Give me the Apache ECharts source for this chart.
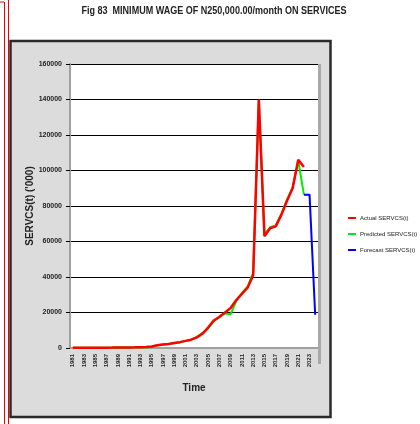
<!DOCTYPE html>
<html><head><meta charset="utf-8">
<script src="https://cdn.jsdelivr.net/npm/echarts@6/dist/echarts.min.js"></script>
<style>html,body{margin:0;padding:0;background:#fff}#c{width:420px;height:424px}</style>
</head><body><div id="c"></div>
<script>
const years = ['1981','1982','1983','1984','1985','1986','1987','1988','1989','1990','1991','1992','1993','1994','1995','1996','1997','1998','1999','2000','2001','2002','2003','2004','2005','2006','2007','2008','2009','2010','2011','2012','2013','2014','2015','2016','2017','2018','2019','2020','2021','2022','2023','2024'];
const actual = [100,110,120,140,160,180,200,220,250,280,320,380,450,500,900,1500,2000,2300,2800,3300,4000,4700,6000,8000,11500,15500,17500,20000,22500,27000,30500,34000,41000,140000,63000,67500,68500,75000,83000,90000,106000,102000,null,null];
const predicted = [100,110,120,140,160,180,200,220,250,280,320,380,450,300,600,1500,2000,2300,2800,3300,4000,4700,6200,8500,11000,15000,17800,19500,19000,26500,31000,34500,42500,139500,64000,68000,69000,75500,83500,90500,105500,86400,null,null];
const forecast = [null,null,null,null,null,null,null,null,null,null,null,null,null,null,null,null,null,null,null,null,null,null,null,null,null,null,null,null,null,null,null,null,null,null,null,null,null,null,null,null,null,86400,86400,18750];
const yTicks = {min:0, max:160000, interval:20000};
const titleText = 'Fig 83  MINIMUM WAGE OF N250,000.00/month ON SERVICES';
const LIB = "'Liberation Sans',Arial,sans-serif";

const chart = echarts.init(document.getElementById('c'), null, {renderer:'canvas'});
chart.setOption({
  animation:false,
  backgroundColor:'#fff',
  graphic:[
    {type:'text',x:214,y:11,scaleX:0.82,style:{text:titleText,x:0,y:0,align:'center',verticalAlign:'middle',font:"bold 11px 'Liberation Sans',Arial,sans-serif",fill:'#222'}},
    {type:'line',shape:{x1:0,y1:2,x2:4,y2:2},style:{stroke:'#e00',lineWidth:1},z:-5},
    {type:'line',shape:{x1:4.5,y1:2,x2:4.5,y2:424},style:{stroke:'#e00',lineWidth:1},z:-5},
    {type:'line',shape:{x1:8.5,y1:0,x2:8.5,y2:424},style:{stroke:'#e00',lineWidth:1},z:-5},
    {type:'rect',shape:{x:10.5,y:41,width:320,height:376},style:{fill:'#dcdcdc',stroke:'#2a2a2a',lineWidth:2.5},z:-10},
    {type:'rect',shape:{x:318,y:64,width:3,height:300},style:{fill:'#a8a8a8'},z:-1}
  ],
  legend:{orient:'vertical',left:343,top:208,itemWidth:8,itemHeight:2,itemGap:6,icon:'rect',
    textStyle:{fontFamily:LIB,fontSize:6,color:'#222',lineHeight:10,padding:[0,0,0,-1]},
    data:['Actual SERVCS(t)','Predicted SERVCS(t)','Forecast SERVCS(t)']},
  grid:{left:70,right:102,top:64,bottom:76,show:true,backgroundColor:'#fff',borderWidth:0},
  xAxis:{type:'category',data:years,boundaryGap:true,
    name:'Time',nameLocation:'middle',nameGap:35,nameMoveOverlap:false,nameTextStyle:{fontFamily:LIB,fontSize:10,fontWeight:'bold',color:'#222'},
    axisLine:{lineStyle:{color:'#a0a0a0',width:2}},
    axisTick:{interval:1,length:20,lineStyle:{color:'#a0a0a0',width:1}},
    axisLabel:{interval:1,rotate:90,margin:6,fontFamily:LIB,fontSize:6,fontWeight:'bold',color:'#222'},
    splitLine:{show:false}},
  yAxis:{type:'value',min:yTicks.min,max:yTicks.max,interval:yTicks.interval,
    name:"SERVCS(t) ('000)",nameLocation:'middle',nameGap:35,nameRotate:90,nameMoveOverlap:false,
    nameTextStyle:{fontFamily:LIB,fontSize:10,fontWeight:'bold',color:'#222'},
    axisLine:{show:true,lineStyle:{color:'#a0a0a0',width:2}},
    axisTick:{show:true,length:4,lineStyle:{color:'#000'}},
    axisLabel:{margin:8,fontFamily:LIB,fontSize:7,fontWeight:'bold',color:'#222',formatter:function(v){return String(v);}},
    splitLine:{lineStyle:{color:'#000',width:1}}},
  series:[
    {name:'Predicted SERVCS(t)',type:'line',data:predicted,showSymbol:false,lineStyle:{color:'#00ee00',width:2},itemStyle:{color:'#00ee00'},z:2},
    {name:'Actual SERVCS(t)',type:'line',data:actual,showSymbol:false,lineStyle:{color:'#ff0000',width:2.5},itemStyle:{color:'#ff0000'},z:3},
    {name:'Forecast SERVCS(t)',type:'line',data:forecast,showSymbol:false,lineStyle:{color:'#0000ff',width:2},itemStyle:{color:'#0000ff'},z:4}
  ]
});
</script></body></html>
